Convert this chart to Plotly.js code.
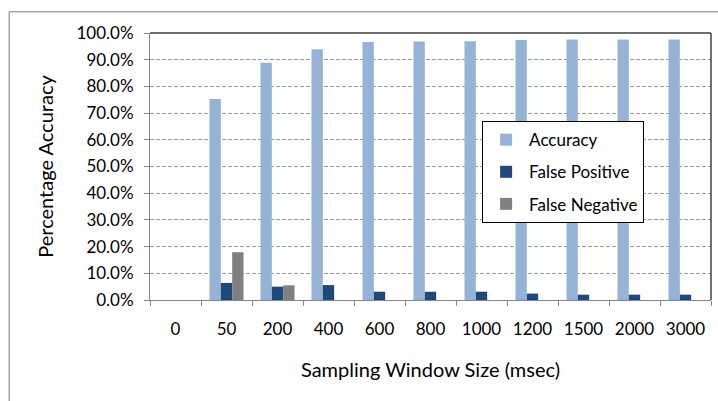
<!DOCTYPE html>
<html><head><meta charset="utf-8">
<script src="https://cdn.plot.ly/plotly-3.0.1.min.js"></script>
<style>html,body{margin:0;padding:0;background:#fff}#c{width:718px;height:401px}</style>
</head><body><div id="c"></div>
<script>
const categories = ["0","50","200","400","600","800","1000","1200","1500","2000","3000"];
const accuracy = [0, 75.3, 88.9, 93.9, 96.6, 96.8, 96.9, 97.4, 97.6, 97.6, 97.6];
const falsePositive = [0, 6.4, 5.0, 5.6, 3.1, 3.1, 3.1, 2.4, 2.0, 2.0, 2.0];
const falseNegative = [0, 17.9, 5.5, 0, 0, 0, 0, 0, 0, 0, 0];
const yTicks = [0,10,20,30,40,50,60,70,80,90,100];
const yTickLabels = yTicks.map(v => v.toFixed(1) + "%");

const font = "Lato, 'Open Sans', sans-serif";
const traces = [
  {type:"bar", name:"Accuracy", legendgroup:"a", x:categories, y:accuracy, marker:{color:"#95B3D7"}},
  {type:"bar", name:"False Positive", legendgroup:"b", x:categories, y:falsePositive, marker:{color:"#1F497D"}},
  {type:"bar", name:"False Negative", legendgroup:"c", x:categories, y:falseNegative, marker:{color:"#808080"}}
];
const layout = {
  width:718, height:401,
  margin:{l:150, r:7, t:33, b:101},
  paper_bgcolor:"#fff", plot_bgcolor:"#fff",
  barmode:"group", bargap:0.333, bargroupgap:0,
  showlegend:true,
  legend:{x:0.592, y:0.67, xanchor:"left", yanchor:"top", bgcolor:"#fff", bordercolor:"#000", borderwidth:1,
    font:{family:font, size:17, color:"#000"}, traceorder:"grouped", tracegroupgap:7, itemwidth:36},
  xaxis:{type:"category", tickson:"boundaries", ticks:"outside", ticklen:5, tickcolor:"#868686",
    showline:true, linecolor:"#868686", linewidth:1, showgrid:false, ticklabelstandoff:14,
    tickfont:{family:font, size:17, color:"#000"},
    title:{text:"Sampling Window Size (msec)", font:{family:font, size:20, color:"#000"}, standoff:24}},
  yaxis:{range:[0,100], tickvals:yTicks, ticktext:yTickLabels, ticks:"outside", ticklen:5, tickcolor:"#868686",
    showline:true, linecolor:"#868686", linewidth:1, ticklabelstandoff:7,
    showgrid:true, gridcolor:"#9a9a9a", griddash:"4px,2px", gridwidth:1, zeroline:false,
    tickfont:{family:font, size:17, color:"#000"},
    title:{text:"Percentage Accuracy", font:{family:font, size:20, color:"#000"}, standoff:17}},
  shapes:[
    {type:"line", xref:"paper", yref:"paper", x0:0, x1:1, y0:1, y1:1, line:{color:"#404040", width:1.5}},
    {type:"line", xref:"paper", yref:"paper", x0:1, x1:1, y0:0, y1:1, line:{color:"#404040", width:1.5}},
    {type:"line", xref:"paper", yref:"paper", x0:-0.251, x1:1.02, y0:1.0795, y1:1.0795, line:{color:"#a6a6a6", width:1.5}},
    {type:"line", xref:"paper", yref:"paper", x0:-0.251, x1:-0.251, y0:-0.4, y1:1.0795, line:{color:"#a6a6a6", width:1.5}}
  ]
};
Plotly.newPlot("c", traces, layout, {displayModeBar:false, staticPlot:true});
</script></body></html>
